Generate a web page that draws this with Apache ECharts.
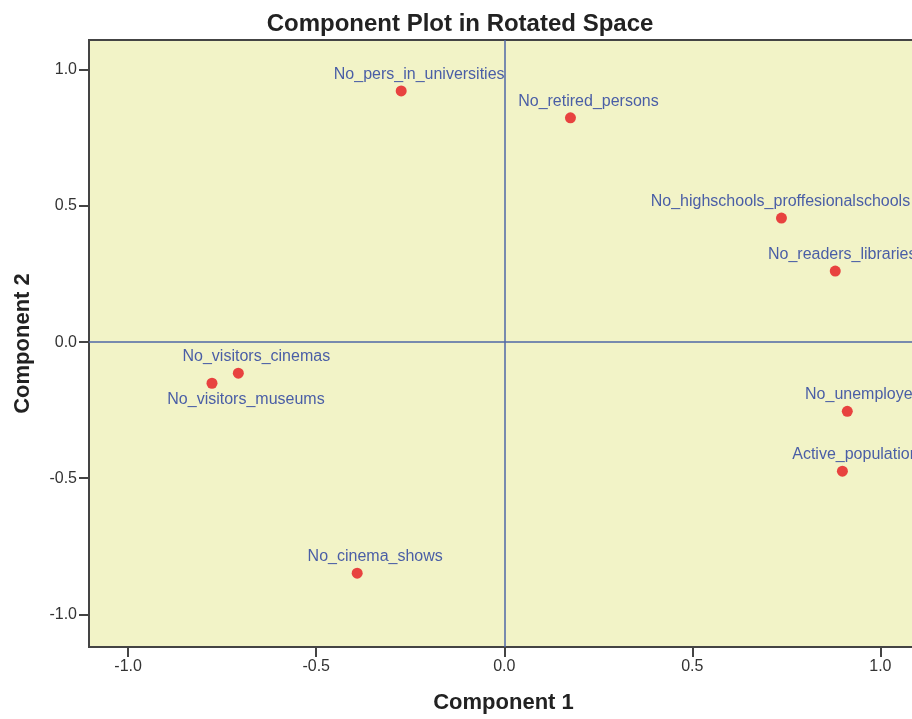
<!DOCTYPE html>
<html>
<head>
<meta charset="utf-8">
<script src="https://cdn.jsdelivr.net/npm/echarts@6/dist/echarts.min.js"></script>
<style>
    html, body { margin: 0; padding: 0; background: #ffffff; overflow: hidden; }
    #grafica { width: 920px; height: 719px; }
</style>
</head>
<body>
<div id="grafica"></div>
<script>
// Nombres de las variables y sus cargas en los dos componentes rotados
const variables = [
    'No_pers_in_universities',
    'No_retired_persons',
    'No_highschools_proffesionalschools',
    'No_readers_libraries',
    'No_visitors_cinemas',
    'No_visitors_museums',
    'No_unemployed',
    'Active_population',
    'No_cinema_shows'
];
const componente1 = [-0.274, 0.176, 0.737, 0.880, -0.707, -0.777, 0.912, 0.899, -0.391];
const componente2 = [0.923, 0.824, 0.456, 0.261, -0.114, -0.151, -0.254, -0.474, -0.849];

// Marcas de los ejes
const marcasX = [-1.0, -0.5, 0.0, 0.5, 1.0];
const marcasY = [-1.0, -0.5, 0.0, 0.5, 1.0];

// Desplazamiento horizontal de las etiquetas (SPSS las corre un poco a la derecha)
const desplazamientoNormal = 18;
const ajusteEtiqueta = {
    'No_highschools_proffesionalschools': { dx: -1 },
    'No_readers_libraries': { dx: 7 },
    'No_unemployed': { dx: 16 },
    'Active_population': { dx: 13 },
    'No_visitors_museums': { position: 'bottom', dx: 34 }
};

const fuente = 'Liberation Sans, Arial, sans-serif';

document.addEventListener('DOMContentLoaded', function() {
    var myChart = echarts.init(document.getElementById('grafica'));

    const puntos = variables.map(function(nombre, i) {
        const ajuste = ajusteEtiqueta[nombre] || {};
        return {
            name: nombre,
            value: [componente1[i], componente2[i]],
            label: { position: ajuste.position || 'top' }
        };
    });

    const estiloTexto = { color: '#333333', fontSize: 16, fontFamily: fuente };
    const estiloNombre = { fontSize: 22, fontWeight: 'bold', color: '#222222', fontFamily: fuente };

    var option = {
        animation: false,
        title: {
            text: 'Component Plot in Rotated Space',
            left: 'center',
            top: 7,
            textStyle: { fontSize: 24, fontWeight: 'bold', color: '#222222', fontFamily: fuente }
        },
        grid: {
            left: 89,
            top: 40,
            width: 829,
            bottom: 72,
            show: true,
            backgroundColor: '#f2f3c7',
            borderColor: '#444444',
            borderWidth: 2
        },
        xAxis: {
            type: 'value',
            min: -1.104,
            max: 1.1,
            name: 'Component 1',
            nameLocation: 'middle',
            nameGap: 45,
            nameTextStyle: estiloNombre,
            splitLine: { show: false },
            axisLine: { show: false, onZero: false },
            axisTick: { show: true, customValues: marcasX, length: 10, lineStyle: { color: '#444444', width: 2 } },
            axisLabel: Object.assign({ customValues: marcasX, margin: 12, formatter: v => v.toFixed(1) }, estiloTexto)
        },
        yAxis: {
            type: 'value',
            min: -1.12,
            max: 1.11,
            name: 'Component 2',
            nameLocation: 'middle',
            nameGap: 55,
            nameTextStyle: estiloNombre,
            splitLine: { show: false },
            axisLine: { show: false, onZero: false },
            axisTick: { show: true, customValues: marcasY, length: 10, lineStyle: { color: '#444444', width: 2 } },
            axisLabel: Object.assign({ customValues: marcasY, margin: 12, formatter: v => v.toFixed(1) }, estiloTexto)
        },
        series: [{
            type: 'scatter',
            symbolSize: 11,
            itemStyle: { color: '#e8423f', opacity: 1 },
            label: {
                show: true,
                formatter: '{b}',
                distance: 3,
                color: '#4a5ea6',
                fontSize: 16,
                fontFamily: fuente
            },
            labelLayout: function(params) {
                const ajuste = ajusteEtiqueta[variables[params.dataIndex]] || {};
                return { dx: ajuste.dx !== undefined ? ajuste.dx : desplazamientoNormal, hideOverlap: false };
            },
            data: puntos,
            markLine: {
                silent: true,
                symbol: 'none',
                label: { show: false },
                lineStyle: { type: 'solid', color: '#4f67a6', width: 1.5 },
                data: [{ xAxis: 0 }, { yAxis: 0 }]
            }
        }]
    };

    myChart.setOption(option);
});
</script>
</body>
</html>
